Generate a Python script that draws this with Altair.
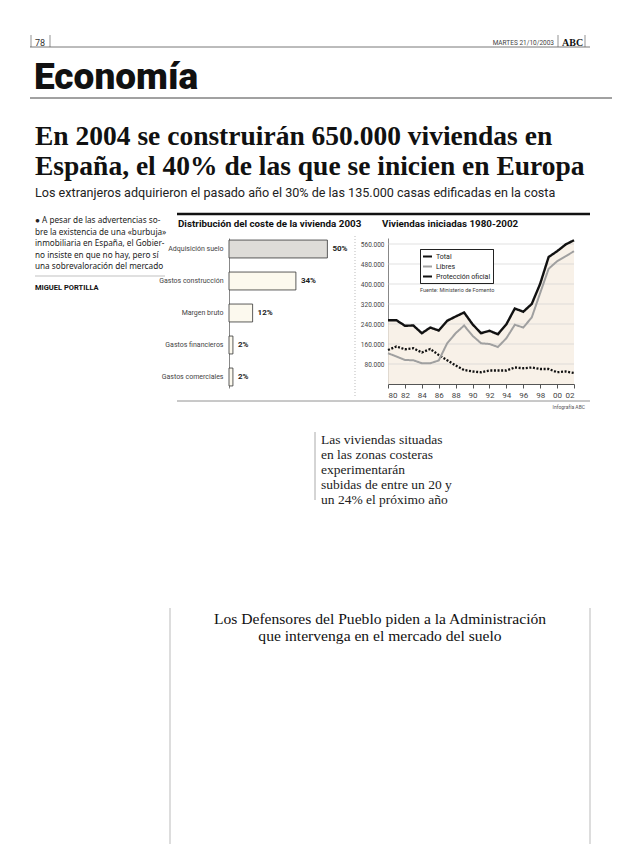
import altair as alt
import pandas as pd

# ---------------- data ----------------
categories = ["Adquisición suelo", "Gastos construcción", "Margen bruto",
              "Gastos financieros", "Gastos comerciales"]
shares = [50, 34, 12, 2, 2]
share_labels = ["50%", "34%", "12%", "2%", "2%"]
bar_fills = ["#dedcd8", "#fcf9ee", "#fcf9ee", "#fcf9ee", "#fcf9ee"]

years = list(range(1980, 2003))
total = [255, 255, 233, 234, 203, 226, 214, 253, 270, 286, 239, 203, 213,
         199, 239, 302, 289, 320, 401, 508, 531, 558, 575]
libres = [123, 110, 96, 95, 83, 83, 94, 163, 203, 234, 193, 163, 160,
          148, 183, 237, 226, 266, 364, 461, 491, 511, 531]
proteccion = [136, 150, 139, 143, 126, 140, 116, 95, 74, 56, 50, 47, 54,
              54, 54, 66, 63, 66, 60, 60, 47, 50, 44]
series_names = ["Total", "Libres", "Protección oficial"]
series_colors = ["#111111", "#a0a0a0", "#111111"]
series_dashes = [[1, 0], [1, 0], [2, 1.6]]
series_widths = [2.4, 2.0, 2.3]
y_ticks = [80000, 160000, 240000, 320000, 400000, 480000, 560000]
x_ticks = list(range(1980, 2003, 2))

lead_lines = ["● A pesar de las advertencias so-",
              "bre la existencia de una «burbuja»",
              "inmobiliaria en España, el Gobier-",
              "no insiste en que no hay, pero sí",
              "una sobrevaloración del mercado"]
headline = ["En 2004 se construirán 650.000 viviendas en",
            "España, el 40% de las que se inicien en Europa"]
subtitle = "Los extranjeros adquirieron el pasado año el 30% de las 135.000 casas edificadas en la costa"
quote_lines = ["Las viviendas situadas", "en las zonas costeras", "experimentarán",
               "subidas de entre un 20 y", "un 24% el próximo año"]
lower_head = ["Los Defensores del Pueblo piden a la Administración",
              "que intervenga en el mercado del suelo"]

SANS = "Roboto"
NARROW = "Liberation Sans Narrow, Roboto"
SERIF = "Liberation Serif"

W, H = 604, 836
one = alt.Data(values=[{"k": 1}])


def txt(text, x, y, size, font=SANS, weight="normal", color="#222", align="left", baseline="alphabetic"):
    return alt.Chart(one).mark_text(
        font=font, fontSize=size, fontWeight=weight, color=color, align=align, baseline=baseline
    ).encode(x=alt.value(x), y=alt.value(y), text=alt.value(text))


def hrule(x1, x2, y, color="#444", width=1.0, dash=None):
    kw = dict(color=color, strokeWidth=width)
    if dash:
        kw["strokeDash"] = dash
    return alt.Chart(one).mark_rule(**kw).encode(x=alt.value(x1), x2=alt.value(x2), y=alt.value(y))


def vrule(x, y1, y2, color="#444", width=1.0, dash=None):
    kw = dict(color=color, strokeWidth=width)
    if dash:
        kw["strokeDash"] = dash
    return alt.Chart(one).mark_rule(**kw).encode(x=alt.value(x), y=alt.value(y1), y2=alt.value(y2))


# ---------------- page decorations ----------------
decor = [
    txt("78", 32, 35, 9, color="#333", align="center", baseline="middle"),
    vrule(23, 27, 39, "#666", 0.7), vrule(42, 27, 39, "#666", 0.7),
    hrule(22, 582, 39, "#555", 0.8),
    txt("MARTES 21/10/2003", 546, 35, 6.5, color="#444", align="right", baseline="middle"),
    vrule(550, 27, 39, "#666", 0.7), vrule(577, 27, 39, "#666", 0.7),
    txt("ABC", 554, 35, 10, font=SERIF, weight="bold", color="#111", baseline="middle"),
    txt("Economía", 26, 81, 37, weight=900, color="#111"),
    hrule(22, 604, 90, "#444", 1.0),
    txt(headline[0], 27, 137, 27.5, font=SERIF, weight="bold", color="#111"),
    txt(headline[1], 27, 167, 27.5, font=SERIF, weight="bold", color="#111"),
    txt(subtitle, 27, 189, 12.6, color="#222"),
    hrule(169, 582, 206, "#111", 2.5),
    txt("Distribución del coste de la vivienda 2003", 170, 219, 9.8, weight="bold", color="#111"),
    txt("Viviendas iniciadas 1980-2002", 374, 219, 9.8, weight="bold", color="#111"),
    hrule(27, 157, 268, "#999", 0.6),
    txt("MIGUEL PORTILLA", 27, 282, 7.5, weight="bold", color="#111"),
    vrule(347, 228, 388, "#aaa", 0.8, [1, 2]),
    hrule(169, 582, 393, "#777", 0.8),
    txt("Infografía ABC", 577, 401, 5, color="#555", align="right"),
    vrule(307, 424, 492, "#aaa", 1),
    vrule(162, 600, 836, "#bbb", 1), vrule(582, 600, 836, "#bbb", 1),
    txt("Fuente: Ministerio de Fomento", 412, 284, 5.5, color="#444"),
]
for i, line in enumerate(lead_lines):
    decor.append(txt(line, 27, 215 + i * 11.5, 8.2, font="Noto Sans", color="#222"))
for i, line in enumerate(quote_lines):
    decor.append(txt(line, 313, 436 + i * 15, 13.5, font=SERIF, color="#222"))
for i, line in enumerate(lower_head):
    decor.append(txt(line, 372, 616 + i * 17, 15.6, font=SERIF, color="#111", align="center"))

# ---------------- bar chart (pixel ranges inside the page) ----------------
BAR_X0, BAR_X1 = 221, 343
BAR_Y0, BAR_Y1 = 230, 380
bar_df = pd.DataFrame({"cat": categories, "share": shares, "label": share_labels})
y_bar = alt.Y("cat:N", sort=categories,
              scale=alt.Scale(range=[BAR_Y0, BAR_Y1], paddingInner=0.44, paddingOuter=0.064),
              axis=alt.Axis(title=None, orient="left", offset=-BAR_X0, ticks=False,
                            domainColor="#888", domainWidth=1,
                            labelFont=NARROW, labelFontSize=7, labelColor="#444",
                            labelPadding=6, labelLimit=80))
x_bar = alt.X("share:Q", scale=alt.Scale(domain=[0, 62], range=[BAR_X0, BAR_X1], nice=False),
              axis=None)
bars = alt.Chart(bar_df).mark_bar(stroke="#333", strokeWidth=0.8).encode(
    y=y_bar, x=x_bar,
    color=alt.Color("cat:N", scale=alt.Scale(domain=categories, range=bar_fills), legend=None))
bar_labels = alt.Chart(bar_df).mark_text(align="left", dx=5, font=SANS, fontSize=8,
                                         fontWeight="bold", color="#222").encode(
    y=y_bar, x=x_bar, text="label:N")
bar_layer = alt.layer(bars, bar_labels)

# ---------------- line chart ----------------
LX0, LX1 = 380, 566
LY0, LY1 = 376, 230
rows = []
for name, vals in zip(series_names, [total, libres, proteccion]):
    for yr, v in zip(years, vals):
        rows.append({"year": yr, "value": v * 1000, "series": name})
line_df = pd.DataFrame(rows)
tot_df = pd.DataFrame({"year": years, "value": [v * 1000 for v in total]})
grid_df = pd.DataFrame({"value": y_ticks, "year": [1980] * len(y_ticks), "year2": [2002] * len(y_ticks)})

x_line = alt.X("year:Q", scale=alt.Scale(domain=[1980, 2002], range=[LX0, LX1], nice=False),
               axis=alt.Axis(title=None, orient="bottom", offset=LY0 - H, values=x_ticks, grid=False,
                             labelExpr="slice(toString(datum.value), 2)",
                             tickSize=4, tickColor="#555", domainColor="#555",
                             labelFont=SANS, labelFontSize=8, labelColor="#444", labelPadding=3))
y_line = alt.Y("value:Q", scale=alt.Scale(domain=[0, 584000], range=[LY0, LY1], nice=False),
               axis=alt.Axis(title=None, orient="left", offset=-LX0, values=y_ticks, grid=False,
                             ticks=False, domainColor="#888",
                             labelExpr="format(datum.value / 1000, 'd') + '.000'",
                             labelFont=SANS, labelFontSize=6.5, labelColor="#444", labelPadding=4))

area = alt.Chart(tot_df).mark_area(color="#f6ede2", opacity=0.8).encode(x=x_line, y=y_line)
grid = alt.Chart(grid_df).mark_rule(color="#cfcfcf", strokeWidth=0.6).encode(
    x=x_line, x2="year2:Q", y=y_line)

leg = alt.Legend(title=None, orient="none", legendX=LX0 + 32, legendY=LY1 + 11,
                 fillColor="white", strokeColor="#222", padding=2, labelFont=SANS,
                 labelFontSize=7, labelColor="#222", labelOffset=3,
                 symbolType="stroke", symbolSize=81,
                 symbolStrokeWidth=2.0, rowPadding=0)
color_enc = alt.Color("series:N", scale=alt.Scale(domain=series_names, range=series_colors),
                      sort=series_names, legend=leg)
dash_enc = alt.StrokeDash("series:N", scale=alt.Scale(domain=series_names, range=series_dashes),
                          sort=series_names, legend=leg)
line_layers = []
for name, w in zip(series_names[::-1], series_widths[::-1]):
    line_layers.append(
        alt.Chart(line_df).transform_filter(alt.datum.series == name)
        .mark_line(strokeWidth=w, strokeCap="butt")
        .encode(x=x_line, y=y_line, color=color_enc, strokeDash=dash_enc, order="year:Q"))
line_layer = alt.layer(area, grid, *line_layers)

chart = alt.layer(*decor, bar_layer, line_layer).resolve_scale(
    x="independent", y="independent", color="independent"
).properties(
    width=W, height=H, padding=0, background="white",
    autosize=alt.AutoSizeParams(type="none")
).configure_view(stroke=None)

chart.save("out.html", embed_options={"renderer": "svg", "actions": False})
